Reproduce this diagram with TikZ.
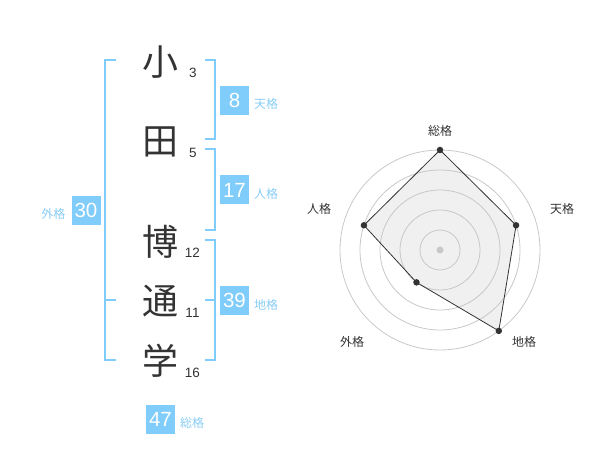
\documentclass[tikz,border=0pt]{standalone}
\usepackage{fontspec}
\setmainfont{Liberation Sans}
\newfontfamily\jp{Noto Sans CJK JP}
\definecolor{sky}{RGB}{128,204,250}
\definecolor{skytxt}{RGB}{135,205,245}
\definecolor{ink}{RGB}{51,51,51}
\definecolor{ring}{RGB}{200,200,200}
\definecolor{area}{RGB}{240,240,240}
\begin{document}
\begin{tikzpicture}[x=1pt,y=-1pt,
  kanji/.style={font=\jp\fontsize{36}{36}\selectfont, text=ink, inner sep=0},
  strokes/.style={font=\fontsize{13.5}{14}\selectfont, text=ink, inner sep=0},
  numbox/.style={fill=sky, text=white, minimum width=29, minimum height=29, inner sep=0, font=\fontsize{20.5}{20.5}\selectfont},
  kaku/.style={font=\jp\fontsize{12}{12}\selectfont, text=skytxt, inner sep=0},
  brk/.style={draw=sky, line width=2},
  axislabel/.style={font=\jp\fontsize{12}{12}\selectfont, text=ink, inner sep=0},
  ringline/.style={draw=ring, line width=0.8},
  vdot/.style={circle, fill=ink, inner sep=0, minimum size=6.5}]
\useasboundingbox (0,0) rectangle (600,470);
% characters
\node[kanji] (c1) at (160,62) {小};
\node[kanji] (c2) at (160,142) {田};
\node[kanji] (c3) at (160,242) {博};
\node[kanji] (c4) at (160,301) {通};
\node[kanji] (c5) at (160,361) {学};
\node[strokes] (s1) at (193,73) {3};
\node[strokes] (s2) at (193,153) {5};
\node[strokes] (s3) at (192.5,253) {12};
\node[strokes] (s4) at (192.5,313) {11};
\node[strokes] (s5) at (192.5,373) {16};
% brackets
\draw[brk] (116,60) -- (105,60) -- (105,360) -- (116,360);
\draw[brk] (105,300) -- (116,300);
\draw[brk] (205,60) -- (215,60) -- (215,139) -- (205,139);
\draw[brk] (205,149) -- (215,149) -- (215,230) -- (205,230);
\draw[brk] (205,240) -- (215,240) -- (215,360) -- (205,360);
\draw[brk] (205,300) -- (215,300);
% boxes
\node[numbox] (b1) at (234.5,100.5) {8};
\node[kaku] (k1) at (266,104) {天格};
\node[numbox] (b2) at (234.5,190) {17};
\node[kaku] (k2) at (266,194) {人格};
\node[numbox] (b3) at (86,210.5) {30};
\node[kaku] (k3) at (53.5,213.5) {外格};
\node[numbox] (b4) at (234.5,300.5) {39};
\node[kaku] (k4) at (266,305) {地格};
\node[numbox] (b5) at (160.5,419) {47};
\node[kaku] (k5) at (192,423) {総格};
% radar
\begin{scope}[shift={(440,250)}, yscale=-1]
  \fill[area] (90:100) -- (18:80) -- (-54:100) -- (-126:40) -- (162:80) -- cycle;
  \foreach \r in {20,40,60,80,100} \draw[ringline] (0,0) circle (\r);
  \fill[ring] (0,0) circle (3.5);
  \node[vdot] (p1) at (90:100) {};
  \node[vdot] (p2) at (18:80) {};
  \node[vdot] (p3) at (-54:100) {};
  \node[vdot] (p4) at (-126:40) {};
  \node[vdot] (p5) at (162:80) {};
  \draw[ink, line width=0.8] (p1.center) -- (p2.center) -- (p3.center) -- (p4.center) -- (p5.center) -- cycle;
\end{scope}
\node[axislabel] (a1) at (440,131) {総格};
\node[axislabel] (a2) at (562,209) {天格};
\node[axislabel] (a3) at (524,342) {地格};
\node[axislabel] (a4) at (352,342) {外格};
\node[axislabel] (a5) at (319,209) {人格};
\end{tikzpicture}
\end{document}
